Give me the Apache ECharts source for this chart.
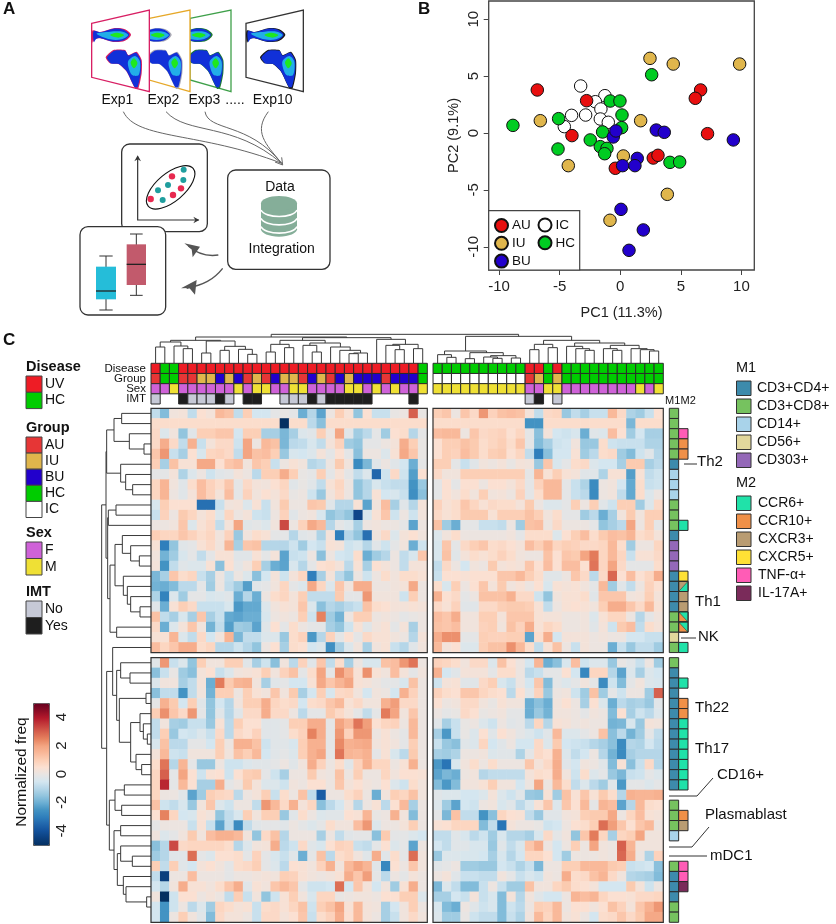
<!DOCTYPE html>
<html><head><meta charset="utf-8">
<style>html,body{margin:0;padding:0;background:#fff}#c{width:836px;height:924px}</style>
<script src="https://cdn.jsdelivr.net/npm/echarts@6/dist/echarts.min.js"></script>
</head><body><div id="c"></div>
<script>
// ---------- PCA points (PC1, PC2)
const pcaAU=[[-6.85,3.78],[-2.78,2.84],[-3.99,-0.23],[6.63,3.78],[6.19,3.05],[7.2,-0.06],[2.72,-2.2],[3.11,-1.96],[-0.41,-3.1]];
const pcaIU=[[2.45,6.56],[4.37,6.06],[9.85,6.06],[-6.6,1.08],[1.68,1.08],[0.25,-2.02],[-4.29,-2.87],[3.88,-5.39],[-0.85,-7.67]];
const pcaBU=[[2.97,0.26],[3.63,0.06],[9.33,-0.61],[-0.58,-0.35],[-0.36,0.18],[1.4,-2.23],[0.19,-2.87],[1.21,-2.87],[0.06,-6.71],[1.9,-8.52],[0.72,-10.31]];
const pcaIC=[[-3.27,4.13],[-1.27,3.28],[-2.06,2.75],[-1.6,2.11],[-2.86,1.58],[-4.02,1.55],[-4.62,0.56],[-1.65,1.23],[-0.99,0.94]];
const pcaHC=[[-8.86,0.67],[2.59,5.12],[-0.83,2.81],[-0.03,2.81],[0.14,1.58],[0.11,0.47],[-5.09,1.26],[-1.46,0.09],[-2.48,-0.61],[-5.14,-1.41],[-1.65,-1.2],[-1.1,-1.35],[-1.29,-1.82],[4.1,-2.58],[4.9,-2.55]];
const pcaTicks=[-10,-5,0,5,10];
const barTicks=[-4,-2,0,2,4];
// ---------- heatmap values
const heatTopLeft=[
[-.8,-1.7,.2,.3,-.8,.5,.3,1.5,1.3,-.8,1,-.5,-.5,-.1,0,-.1,-2,-1,-2.2,.1,1,.4,-1.5,.5,-.7,-.7,0,.1,3,0],
[.6,.6,.6,.6,.6,.6,.6,.6,.6,.6,.6,.6,.6,.6,-5,.6,.6,-.9,-1.6,.6,.6,.6,.6,.6,.6,.6,.6,.6,.6,.6],
[.7,-.3,.2,-1.5,-.2,1,1,1.2,1.2,-.5,1,1,-1.2,-1.2,-1.8,-1.2,-.3,-.2,1,.1,2,-.2,-1.3,-.9,-.1,-1.3,.5,.6,-1,-.1],
[.7,1.8,.7,-.8,1.7,-.7,.3,.7,.7,-.6,2,.1,1.5,1.3,-1.8,-.9,-.8,-.4,-.8,.3,.9,-1.3,-1.5,-.1,-.1,.1,.3,1.8,1,0],
[1.2,2.2,-.7,-1.2,.5,-.4,.8,.9,.7,-.8,2,1.3,1.4,1,-1.4,-.4,-.5,-.3,.3,-.1,.5,-.1,-1.6,.1,.1,-.3,.4,1.9,1.2,0],
[1,-1.2,1.3,.4,.4,1.9,1.9,.5,1.2,1.4,.2,1.2,1,-.7,.1,.4,.2,-1,-.8,.1,1.1,.2,-2.7,-1.8,-.2,.1,-.2,-.5,-2,-.1],
[-.1,-.1,.3,-1.1,-.3,.1,-.6,-.2,-.1,.3,.1,-.9,1,1,1.8,1,0,-.1,1,-.1,.4,-.1,-.8,-.3,-3.5,-.6,.7,-.6,-2.3,.5],
[.8,1.6,.2,-.2,.6,1.4,.9,.6,1.2,-.1,.7,.3,.2,.5,.8,-.2,0,-.2,-.8,.4,.8,.1,-1.5,-1,-.4,-.7,-.8,-.8,-2.5,-1.4],
[.8,1.6,.1,-.2,.3,1.4,.9,.3,1.4,-.1,.9,.2,.5,.3,.7,0,.1,-.6,-1.4,.2,.7,.1,-1.5,-1,.4,-.5,-.4,-.7,-2.6,-1.6],
[-.4,1,.5,.5,.5,-3.3,-3.3,-.7,.2,.3,-.3,.4,-.7,.2,1.1,.1,.1,1.2,1.1,-.2,-1,-1,.4,-2.2,.2,1.4,-1.2,-.2,-1,.3],
[-.7,.9,.1,1.1,.8,.3,.6,-.3,.8,.1,.3,-.6,-.7,.1,.9,-.2,.1,.2,-.4,-1.5,-1.2,-1.5,-4.3,-.4,.4,1.2,-.6,.1,-.6,.2],
[.1,.1,.2,1.2,-.3,.4,.7,-.8,.3,2,-.2,-.1,-.3,.2,3.3,.1,.9,1.9,1.5,-1,-.1,-.3,-1.2,.1,.2,.1,.1,-.1,-2.2,.1],
[1,.8,.8,1.2,.9,.6,.8,.2,.9,-1.4,.2,.6,.4,-.1,-.1,-1,-.2,-.1,-1.1,.3,-3,-1,-1.5,-3.3,.2,.7,-.3,.3,.5,.2],
[.4,-3,-1.5,-.2,-.1,.4,.7,.2,1.6,-1.2,1.2,1.3,-1,-1,-1,-.6,-1.3,-.5,-.7,.4,.3,-.6,-.4,-1,-.2,-.6,-.1,.2,-2,-.6],
[.2,-1.9,-1.3,-.4,-.1,-.8,-.1,.4,.4,-.2,-.2,.4,-.1,.3,-2.2,-.7,-.6,.1,-1.6,.1,-.5,-.6,.6,-2,-1.3,-1,.1,-.8,-.4,1.2],
[.3,-2.5,-.8,-.2,-.3,-.3,.4,-1.6,.5,-.1,.2,1,-1.2,-2,-2.2,-.4,-1,-.1,.5,.6,.3,-.9,.4,-1.2,.5,.3,.1,-.8,.3,.3],
[-1.8,-1.2,1.2,.6,.8,-.7,-1.2,.1,-.7,.1,-.3,-1.6,-.5,.3,-.6,.3,.8,-3,-1.2,.3,-.9,-1.5,.1,-.6,.1,.6,.2,.6,.6,.4],
[-1.9,-2,-1.7,-.9,-.9,-.1,-1.3,.1,-.8,-1.3,-2.3,-.2,-.1,.2,.8,-.1,-.3,1.9,.8,-.3,1.2,.2,1.8,1.8,.1,.1,.2,.3,1.9,.1],
[-1.1,-2.9,-.3,-1.3,-.1,-.1,-.4,-.3,-.2,-2,-1,-2,.1,.6,.8,.3,1,-.8,-.8,-.8,1.1,-.1,-.1,2.2,.2,.2,.2,-.6,1,.1],
[-.2,-2,.4,1,.7,-.7,-.7,-.7,-.4,-2.4,-2.1,-2.1,-.3,.2,.4,.3,1.2,-.3,-1.6,-1,-1.2,-.9,-.7,1.3,.6,.5,.3,.3,.4,.3],
[1.3,-.8,-1.2,-.4,-1.2,1.2,-1.2,-.7,-2.1,-2.2,-2,-2,-.4,.1,.2,.1,1,-.6,2.5,-1.3,-1.9,.1,1,1,.1,.2,.1,-.1,0,.1],
[.7,-2,-.3,.3,1.2,.2,-1.9,-.8,-2.3,-1.3,-1.4,-2.2,-.2,.5,-.1,.6,.1,-.1,-.1,-1.2,-1.5,-.6,.4,-.2,.2,.4,-.1,.3,-1.2,.1],
[.4,.4,1.6,-.3,-.8,.7,-.5,.2,1.6,-1.8,-.8,-.8,-.3,-.3,-1.4,.6,.9,-2.4,-1,.9,-.1,.5,-.1,.7,.4,.4,.2,.1,-1,.3],
[1.4,.8,1.2,1.8,1.8,.6,.8,-1,-1,-.6,-1,-1.5,.1,.5,-1.2,.6,.5,-.5,-.3,-2.6,-1.2,-.3,.2,-1.2,.2,.4,-.7,-1,-.2,.2]];
const heatTopRight=[
[1,1.2,.1,1.2,.7,2.2,.9,1.3,1.4,1.3,.3,-.8,.7,.8,-1.4,-.8,-1.2,-.7,-.7,1.5,.7,-1.1,-1.3,-.7,.5],
[.6,.6,.6,.6,.6,.6,.6,.6,.6,.6,-2.5,-2.5,.6,.6,.6,.6,.6,.6,.6,.6,.6,-1.8,.6,.6,.6],
[1.4,1.5,1.5,.1,1.2,.7,.8,.9,.5,.8,-.1,-1.6,.3,-.5,-.6,-.4,-2,-.2,-.3,1.4,.5,-1.3,-.5,-1.2,-1.2],
[.5,1,1,1.3,1.1,.6,.8,1,.6,1.2,-.1,-1.7,-1.2,-.6,-.5,.2,-1.4,-1.4,.6,-.6,-.7,-.7,-.7,-1.1,-1.1],
[.5,1,.9,1.4,1.1,.6,1,1.1,.5,.8,-.8,-3,-1.6,-.5,-.5,.4,-1.3,-.9,.6,.7,-1.3,-1.7,-.6,-.2,-1],
[1,1,-.1,-.7,-.2,.2,.1,.3,0,.3,.2,-1.4,1.2,-.4,-.1,.6,.7,-.3,-.5,-.5,-1.2,1.1,1.1,-1.2,-.9],
[.7,.2,.2,1,1,1,1,1,1,1,-.1,1.6,.4,1,.4,.3,-.2,-.2,-1.1,.4,.4,-2.3,.4,-.8,-.6],
[-.1,.5,-.1,.5,.5,.1,.5,.5,.3,.7,-.1,.9,1.5,1.5,-.1,-.7,-1.1,-2.7,.1,.2,-.5,-2.1,.6,-.7,-.6],
[-.1,.5,.2,.6,.2,1,.2,.3,.1,.9,-.1,.6,1.5,1.5,-.1,-.7,-.9,-2.7,.1,.2,-.8,-2.1,.6,-.3,.1],
[.9,.4,.6,1.2,.8,.4,.7,.6,.6,.3,1.1,.1,-.3,-.3,-.1,1,.1,1,-.2,-.6,1,1,-1.3,-.3,.7],
[.7,.4,.6,1.1,1.1,1.1,.4,1,1,1,1.3,1,.2,.6,-.1,-.1,-1.3,-.9,-2,-1.2,.2,1.1,.2,1,1],
[1.3,-1.3,-2,-.1,-.1,-.7,-.7,-.8,.1,-1.3,1.3,1.4,.1,.7,.1,.1,.1,-.1,-1.5,-1.2,-.9,2,.1,1,-.1],
[-.3,.2,.6,.1,.1,.1,.1,.1,.2,-.1,.6,.6,.6,-.3,.5,1,1.4,.6,1.1,1.4,1.3,1.6,.6,.8,.3],
[-.4,1.2,-.1,.7,1,1.2,.6,.7,.5,.3,1.4,1,1.5,.8,1,.9,.7,.7,.8,1.5,.6,-1.3,.1,.1,.8],
[-.4,1.3,-.2,.3,.6,.4,.6,.9,.6,.2,.1,.1,1.3,.5,1.2,1.1,2,2.6,.8,1.5,.8,-.7,.4,.4,.7],
[-.8,.7,.1,-.5,.2,.1,1.1,.3,.4,.3,1.2,.5,1.4,.5,1.4,1.4,.5,2.7,.8,2,.7,-.1,-.1,-.1,.6],
[-.7,.5,.5,.4,.5,.5,.5,1.2,1.2,1.5,1,.6,-.2,-.2,.1,1.2,.7,-.9,.7,2.9,.5,1.4,.5,.8,1.8],
[.6,-.4,1,.1,.5,1.2,.3,1.1,.2,.4,.1,.5,-.4,.4,.3,.4,.2,-.1,1.5,-1.3,-.2,-.8,.1,.9,.5],
[1.7,.5,.7,-.1,.1,1.3,1.3,1.3,1.7,.7,.7,-.6,-1.5,.2,.4,.4,.6,-.2,1.2,1.2,1.2,.2,.3,1,.3],
[.7,.4,.9,-.2,-.2,.7,.7,1,1.1,1.1,1,.4,-.8,.1,.4,.5,.4,.2,1,1.8,1.8,1.2,.7,1.5,.4],
[1.4,1.2,1.8,.2,.2,1,1,.3,1.2,1.2,1.2,.4,.3,.3,.1,.1,.2,-.3,.4,.8,.8,.1,-1,-.1,.2],
[1.3,1.2,1.4,.2,.2,.9,1,.2,1.3,.9,1.8,.4,.8,.6,.1,.1,.2,-.2,.3,-.6,1.1,1.4,-.8,.6,.3],
[1.8,2.3,2.3,-.1,-.1,1,.9,.9,1,1,-2.2,.6,1.8,-.5,.3,.3,.3,.1,.2,.1,.1,-.5,-.5,-.7,-.7],
[1.5,.3,.5,-.3,-.3,1,1.3,1.3,2.3,1.5,.6,-.8,.4,1.3,.1,-.7,.3,.1,.1,-2,-.7,-1.4,-.8,-.8,-1.3]];
const heatBottomLeft=[
[-.2,2.2,-.7,-.3,-1.5,1,.2,.2,1,1,-.2,-1.2,-.6,-1.6,.2,-.9,.9,-.2,1.2,-.8,.6,-1.2,.1,-.4,-.4,1.3,1.4,2.2,2.7,.1],
[-1.6,-.7,0,-1.3,-1.6,.3,.5,-.7,-.3,.2,.3,.4,1,.2,.9,1.3,-.1,.6,2,-.1,2.3,1.6,.4,2.3,.4,.2,1.4,.3,-.1,.2],
[-.3,.2,.2,-1.2,-.8,.3,-2,2.6,1.1,1.6,1.7,.2,-1.2,-.2,-.1,-.5,-.5,.4,1.9,1.2,1.6,2,.4,.3,.1,-.1,-.1,-.4,1.3,.1],
[-1.6,-.8,-.8,-2.5,-.8,.2,-1.9,1,1,.1,1,.4,.2,1.2,.2,1.1,-1.2,-.5,1,-.4,.7,.8,.2,-.5,.2,.1,-.5,1.7,.9,.1],
[-.1,1.7,1.1,-.5,1,-.2,-1.5,-.5,-1,.2,1,1,1.8,.8,.6,.7,-.5,.6,.7,1.2,1.5,.4,.7,.2,.2,1.7,2.1,.7,.7,.1],
[1,2.3,1.2,.7,2.2,-.1,-1.5,-.2,-1,-.2,.7,.7,1.8,.7,.7,.1,-.9,-.1,-.1,1.1,.7,.3,-.1,-.8,-.1,2.6,2,.2,1.2,.1],
[-.8,.2,-1.2,-1.3,-.7,-.7,-1.4,.4,-.9,1,.5,.5,-.2,-.2,-.1,1,1,1.8,1.8,-.1,2,1.5,2.7,2.1,.5,.8,.9,.1,1.5,.1],
[-.8,1,-1.4,-.5,-.6,-.3,-.7,.7,-.9,.7,.5,.9,-.2,-.2,-.1,.6,.9,2.5,1.8,-.1,2.2,.9,2.2,2.2,.1,.4,.1,-.1,1.5,.1],
[-.4,1.3,-.9,-.9,-.1,-.1,-.5,1,.1,1.7,1.7,1.3,-.6,-.2,-.2,-.4,1,1.7,1.7,-.1,2.4,1.7,1.8,1.9,.2,.4,.2,-.1,1,.1],
[.3,1.5,-.6,-.7,.2,.2,.2,1,.2,1.3,1,1.5,-.5,-.2,-.1,-.3,1,1.7,2,-.1,2.7,1.6,1.5,1.7,-.1,.4,-.4,-.9,1.1,.1],
[.6,2.7,-1,1.6,-.1,-1.4,-1.4,.1,-.6,-.6,-.3,-.2,-.2,-.1,.1,-.2,.2,1.8,.9,.1,.6,-.2,.9,1.7,.8,.8,.1,.4,1.7,.1],
[.8,3,-.1,2,.5,-.6,.4,.5,-.6,.5,1,1.1,-.1,-.6,-1.2,.1,.1,1.1,.2,.1,1.3,.1,1,.1,.1,.8,.2,.5,.5,.4],
[.8,3.8,-.1,1.5,.5,-1.2,-1.2,1.8,-.1,.1,1.1,.3,-.3,-.3,-.6,.2,.1,.5,.5,.1,1.2,.3,.5,.2,.1,.5,-.3,-.6,.6,.2],
[.8,.1,.1,-.2,-2.2,-1.3,1,.8,.7,-.9,.1,.3,1,-.7,.6,.1,1.3,-.8,-3.7,.1,.1,.6,.9,.1,-2,.2,1,.8,1.3,.2],
[1.3,-.6,-.8,-.4,-1.4,.2,1.2,-.3,-.6,.1,.1,-.8,2.2,1.5,.7,1.7,.3,.8,-1.6,-.9,-.5,.2,-1,.1,.4,-.9,.5,1.5,-1.2,.1],
[.5,2.5,.8,-.5,-.4,.4,.2,-1.5,-.8,-.4,1,.2,1,1,-1.4,-.2,.6,.1,-.3,-.2,-.2,.5,.4,1.6,0,.1,1.7,.2,-1.7,.1],
[-.1,.1,.1,.1,-.7,.4,-.7,-2.2,-.8,-2.7,-.8,-.2,-.1,-.1,-.2,.1,-.1,-.3,-.1,.6,.2,.2,1.4,2.2,-.3,.1,.1,.3,1,.1],
[.2,-.3,-.1,.2,1.1,.2,1.4,1.7,1.7,1.5,.2,-1.5,.7,1.3,-1,.1,.1,.1,-1.2,.1,-.8,-.2,-.1,-.1,-1.6,1.1,-.1,-.1,-.3,-.5],
[-1.6,-1,3.3,.7,.8,.8,.8,.8,.6,-1,-.3,.2,.3,1.8,-.9,-.6,.7,-.2,-.4,.5,.9,.8,-.7,-.8,-.1,.5,-.3,-.1,-2.2,.1],
[-1.3,-1,-.2,-.2,2.8,-.1,-.3,.5,.5,.6,-.1,.9,-.1,-.4,-.7,-.2,-2,-.1,1.3,-.9,.6,.8,.2,-.2,1.8,-.2,.6,-.1,2.8,.2],
[1,-.8,1,-.2,-.5,.3,.5,.2,-.1,.6,.7,1,-.1,-.3,-.9,.5,.4,.2,.9,1.7,.2,1.5,2,1.6,-.2,-2.8,.5,.1,1.2,.2],
[-.8,-4.5,.1,.1,1.4,.1,.1,.1,-.1,.1,.1,.2,.3,.2,1,.9,.4,.2,.1,.2,.4,1.8,1.2,2.1,-.1,-.9,.1,-.1,.3,.1],
[-.5,-1,.2,1.8,.4,.4,.2,.6,1.2,1.8,-.2,.4,.2,1.2,1.5,1.2,-.1,-.6,-.6,-.5,2.8,-.5,1.2,.3,-.5,.2,-1.3,.4,1.8,.1],
[.2,-5,-.6,.5,.5,.1,.3,.1,-.8,1,-.7,.2,-1.5,-.6,.4,1,.2,-.4,.8,.8,0,.1,.2,.2,.1,.5,.5,1,1,-.3],
[-.5,-2.5,-.6,.1,-.9,-.3,-1.3,.8,.6,.3,.4,-.7,.6,.7,.4,.8,1.3,-.6,1,1.3,2,.4,1.5,.3,.2,-1.2,-.5,.2,1,.1],
[-.5,-2.5,.1,1,.2,-.2,-1.7,.7,.3,.3,.1,-.7,.7,.7,.3,.5,1.2,-.7,.6,.9,1.8,.5,1.5,.3,.1,-1.2,-.7,.2,.7,.2]];
const heatBottomRight=[
[.9,.8,.6,.2,.7,.7,-.3,1.3,.5,.1,-.5,1.6,-2,-1.6,-.4,1.4,-.6,-.3,-.3,-1.4,0,-.2,-.7,.1,-1.3],
[1.7,-.5,-.2,.3,.3,.3,-.1,.6,.6,.1,-.9,-.7,-.1,-.1,.5,-.5,-2.8,.8,.8,-1,-2.2,-.3,-1.2,-.3,-.5],
[-.6,.3,.4,-.2,-.2,.7,1,-.4,-.7,.1,-.5,1.2,-1.7,-.1,-.3,-.1,.2,-.1,-2.7,-.6,-1.7,-.1,.2,-.3,-.4],
[.9,.6,.5,1.2,1.2,.8,.6,.5,-.9,.5,-.2,.9,-1.4,.1,.2,-.6,-1.3,1.3,-1.3,-.1,-.6,.1,.1,-1.3,3],
[.5,.1,.2,.7,.7,.2,0,.4,.2,.2,-2,-1.6,-2,.2,.5,.1,-1.2,.5,-.3,-2,-.9,-1.2,-1.1,-1.4,-.2],
[.1,-.1,0,.7,.5,0,.1,.2,-.1,-.1,-2,-1.4,-1.9,.2,.2,.1,-.1,.2,.1,-1.7,.5,-1.2,-.6,-.9,-.3],
[-.2,-1.2,-.7,0,.1,-.3,-.6,.1,-.2,-.1,-.9,.8,-1,.4,.3,.1,.2,.1,.1,-1.9,-1.8,-.4,-1.4,.3,.2],
[-1.2,-2.4,-.7,0,-.3,.5,-.2,.5,.2,-.1,-.3,-.6,-.2,1.5,-.3,-.3,-.1,.1,1.3,-1.6,-.9,-1.9,-1.3,-.1,-.8],
[-.7,-1.4,-1.6,-.2,-.3,.8,-.5,-.2,.1,-.5,-.5,.7,-.3,1.1,-.5,-.6,-.7,-1,-1.2,-1.6,-2.7,-1,-1.1,-.5,-.9],
[-1.2,-1.3,-1.1,.1,.1,.2,-.3,-.2,-.2,-1.1,-.1,.7,.5,1.7,-.3,-.8,-.5,.1,-1,-1.9,-2.7,-1.2,-1,-1,-1],
[-2.4,-3.2,-.4,.2,.6,.1,.6,.1,.1,.1,1.2,.3,.7,1.8,-.2,-.5,.2,.1,-.2,-1.7,.4,-1.6,-.7,.7,-1],
[-2.2,-1.8,-2,.1,.2,-1,-.8,-.8,-.8,-.8,.3,.6,.5,1.8,.2,-.6,.6,-.3,-.1,-1.4,-1.8,-.7,-.6,-.1,-.3],
[-1.7,-2.4,-1.7,.2,.2,.4,1,.2,.2,-.5,.1,2,.1,1.5,.6,-.8,-.3,-.9,-1.3,-.2,-2.4,-.1,-.1,-.3,-.1],
[-.2,-.3,-.3,-.5,-.5,-.3,.3,-.3,-.6,-.2,-1.4,-1.5,.4,-1.3,1.3,.4,1.2,.4,1.1,.6,-1,1.7,1.6,1.6,1.7],
[-.3,-1.3,-2.2,-.5,-.6,.1,.2,-.4,-.2,-.9,-.4,.4,1.2,-.3,1.2,.5,1.5,-.1,1.6,1.4,-2.2,-1,1.5,.6,.5],
[-.1,-1.8,1.3,-.8,-.8,-2.5,-1.6,.8,.5,.4,-.8,-1.4,-.2,-.2,.2,.3,1,1.1,1.1,1.9,.1,.8,1.4,.4,.3],
[.4,.5,.8,.8,.8,-1.7,-.8,-3.2,.3,.1,.1,0,-.6,-.5,.1,.5,.6,1,2.8,2.1,1.2,.5,1.2,1.5,.1],
[-.8,-.8,-.2,-.4,-.9,-.6,-1.3,-.4,-1,-1,-1.2,-.4,.7,-.1,.2,-1.5,1.2,2.6,.8,-1.2,.8,1,2,.2,.2],
[-.5,-.8,-.2,-.2,-.4,-.4,-1.4,-.2,-.8,-.4,1.2,1.8,.1,-.5,.1,1,.1,2,.2,.1,3,1.6,.2,.2,.2],
[-1.4,-.3,-.3,-.4,-.4,-.5,-1.2,-.4,-1,-.5,.8,.8,.5,-.5,-1.3,.1,.1,.1,.2,.1,2.9,1.8,.1,-1.1,.9],
[-.2,-.1,.1,-1.3,-1.3,-1.4,-1.4,-.5,-.7,-1.1,-.7,-1.8,.1,.1,1,1,1.5,1.5,1.5,1.1,1,-.7,-.6,-.5,-1.6],
[.1,.3,-.2,-.7,-.7,-.8,-.8,.2,-.1,-.7,-.4,-.6,.2,.1,1.8,.6,.7,1.3,1.6,.7,.2,-1,-1.1,-1.2,-1.7],
[-1.8,-.3,-.8,-1.7,-1.7,-.7,.1,-.7,-1.3,-1.3,1.3,.2,.2,.8,1.1,.6,.5,.3,-.5,-.5,-.5,1.1,.3,-.6,.1],
[-1.2,-1.2,-.5,-.7,.3,-.7,-.4,-1.7,.3,-1,.2,-.2,-.5,-.5,.1,1.6,1.4,1.6,.8,.5,.5,.4,.7,.7,.8],
[-.4,-1.7,-2,.1,-.2,-.6,-.4,-1.7,-.6,-.9,.1,1,.9,1.5,.1,.5,.5,.2,.5,1.3,.9,.3,1.2,1.7,2.2],
[-.3,-1.3,-1.3,0,-.6,-.8,-.8,-1.7,-.7,-1.1,.2,1.5,.8,1.5,.2,.4,.1,-.5,.6,.7,1.2,.7,1.1,1.9,1.9]];
// ---------- sample annotations (left block 30 samples, right block 25 samples)
const diseaseLeft='UV HC HC UV UV UV UV UV UV UV UV UV UV UV UV UV UV UV UV UV UV UV UV UV UV UV UV UV UV HC'.split(' ');
const diseaseRight='HC HC HC HC HC HC HC HC HC HC UV UV HC UV HC HC HC HC HC HC HC HC HC HC HC'.split(' ');
const groupLeft='AU HC HC AU AU IU IU BU IU BU AU IU AU BU IU IU AU BU IU AU BU IU BU BU BU AU BU BU BU HC'.split(' ');
const groupRight='IC IC IC IC IC IC IC IC IC IC AU IU HC IU HC HC HC HC HC HC HC HC HC HC HC'.split(' ');
const sexLeft='F F M F F F F F F M F M M F F M M F F F F M M F M F M F F M'.split(' ');
const sexRight='M M M M M M M M M M F F M M F F F F F F F F M F M'.split(' ');
const imtLeft='No - - Yes No No No Yes No - Yes Yes - - No No No Yes No Yes Yes Yes Yes Yes - - - - Yes -'.split(' ');
const imtRight='- - - - - - - - - - No Yes - No - - - - - - - - - - -'.split(' ');
// ---------- marker annotations per row
const m1Top='CD8 CD8 CD8 CD8 CD8 CD4 CD14 CD14 CD14 CD8 CD8 CD8 CD4 CD303 CD303 CD303 CD4 CD4 CD4 CD4 CD8 CD8 CD56 CD8'.split(' ');
const m2Top='- - TNF CCR10 CCR10 - - - - - - CCR6 - - - - CXCR5 CXCR3/CCR6 CXCR3 CXCR3 CCR10\\CCR6 CCR10\\CCR6 - CCR6'.split(' ');
const m1Bottom='CD8 CD4 CD4 CD4 CD4 CD4 CD4 CD4 CD4 CD4 CD4 CD4 CD4 - CD8 CD8 CD8 CD14 - - CD8 CD4 CD4 CD4 CD8 CD8'.split(' ');
const m2Bottom='- - CCR6 - CCR10 CCR10 CCR6 CCR6 CCR6 CCR6 CCR6 CCR6 CCR6 - - CCR10 CXCR3 - - - TNF TNF IL17 - - -'.split(' ');
// ---------- dendrograms: [height, left, right], 0 = next leaf
const treeColumns=[86,[78,[68,[63,[48,0,0],[51,0,[43,0,0]]],[66,[30,0,0],[50,[38,0,0],[41,0,[26,0,0]]]]],[76,[68,[56,[33,0,0],[46,0,0]],[60,[53,0,[33,0,0]],[48,0,[38,0,[30,[28,0,0],0]]]]],[71,0,[56,[53,0,[40,0,0]],[43,0,0]]]]],[80,[36,[25,0,[17,0,0]],[31,[13,0,0],[22,[18,0,[14,0,0]],[15,0,0]]]],[68,[56,[40,0,0],[46,0,0]],[60,[50,0,[43,0,[38,0,0]]],[53,[43,0,[38,0,0]],[43,0,[40,0,[36,0,0]]]]]]]];
const treeRows=[148,[135,[133,[111,[88,0,0],[65,0,[21,0,0]]],[91,0,[76,0,[55,0,0]]]],[130,[128,[105,0,0],0],[123,[108,[86,0,[61,0,[35,0,0]]],[83,0,[71,0,[61,0,[33,0,0]]]]],[103,0,0]]]],[133,[115,0,[103,[91,0,[63,0,0]],[95,[15,0,0],[61,[33,0,[23,0,[11,0,0]]],[45,0,[28,0,0]]]]]],[125,[108,[80,0,0],[88,0,0]],[111,[91,0,0],[101,[91,0,[56,0,0]],[83,0,[75,0,[13,0,0]]]]]]]];
// ---------- labels & colours
const heatColors=['#053061','#0B3F7D','#12509A','#2166AC','#2F7FBC','#4393C3','#6BAED3','#92C5DE','#B5D6E8','#D4E6F0','#E8E5E3','#FBE0D2','#FCCFB6','#F9B99A','#F4A582','#E6825F','#D6604D','#C43C3C','#B2182B','#8A0C25','#67001F'];
const colDisease={UV:'#EE1C25',HC:'#00CC00'};
const colGroup={AU:'#E63636',IU:'#E0B64C',BU:'#2200CC',HC:'#00CC00',IC:'#FFFFFF'};
const colSex={F:'#CF62D8',M:'#EFE035'};
const colImt={No:'#C6C9D6',Yes:'#1E1E1E'};
const colM1={CD4:'#3D8BAC',CD8:'#76C25F',CD14:'#A9D3EA',CD56:'#E1D79C',CD303:'#9468B8'};
const colM2={CCR6:'#20E2A9',CCR10:'#F09048',CXCR3:'#B99C72',CXCR5:'#FFE135',TNF:'#FF5CB6',IL17:'#7A2B5A'};
const m1Names={CD4:'CD3+CD4+',CD8:'CD3+CD8+',CD14:'CD14+',CD56:'CD56+',CD303:'CD303+'};
const m2Names={CCR6:'CCR6+',CCR10:'CCR10+',CXCR3:'CXCR3+',CXCR5:'CXCR5+',TNF:'TNF-α+',IL17:'IL-17A+'};
const annotationRows=['Disease','Group','Sex','IMT'];

// ---------- helpers
const FONT='"Liberation Sans", Arial, sans-serif';
const palette=[];const pal=c=>{let i=palette.indexOf(c);if(i<0){palette.push(c);i=palette.length-1;}return i;};
const GAPCOL=0.62, GAPROW=0.5;
const colPos=(b,i)=>b===0?i+.5:30+GAPCOL+i+.5;
const rowPos=(b,i)=>b===0?i+.5:24+GAPROW+i+.5;
function walk(node,pos,out,st){
  if(node===0){return {p:pos(st.n++),h:0};}
  const a=walk(node[1],pos,out,st),b=walk(node[2],pos,out,st);
  out.push([a.p,a.h,b.p,b.h,node[0]]);
  return {p:(a.p+b.p)/2,h:node[0]};
}
const segColumns=[];walk(treeColumns,i=>i<30?colPos(0,i):colPos(1,i-30),segColumns,{n:0});
const segRows=[];walk(treeRows,i=>i<24?rowPos(0,i):rowPos(1,i-24),segRows,{n:0});
const heat=m=>{const o=[];m.forEach((r,y)=>r.forEach((v,x)=>o.push([x,y,v])));return o;};
const cats=n=>Array.from({length:n},(_,i)=>i);

// annotation cell data
const sampleCells=[];
[[diseaseLeft,diseaseRight,colDisease],[groupLeft,groupRight,colGroup],[sexLeft,sexRight,colSex],[imtLeft,imtRight,colImt]].forEach((t,r)=>{
  [t[0],t[1]].forEach((arr,b)=>arr.forEach((k,i)=>{if(t[2][k])sampleCells.push([colPos(b,i),r,pal(t[2][k]),-1,0]);}));
});
const sideCells=[];
[[m1Top,m2Top],[m1Bottom,m2Bottom]].forEach((t,b)=>{
  t[0].forEach((k,i)=>{if(colM1[k])sideCells.push([.5,rowPos(b,i),pal(colM1[k]),-1,0]);});
  t[1].forEach((k,i)=>{
    if(k==='-')return;
    let m=k.split('/');
    if(m.length>1){sideCells.push([1.5,rowPos(b,i),pal(colM2[m[0]]),pal(colM2[m[1]]),1]);return;}
    m=k.split('\\');
    if(m.length>1){sideCells.push([1.5,rowPos(b,i),pal(colM2[m[0]]),pal(colM2[m[1]]),2]);return;}
    sideCells.push([1.5,rowPos(b,i),pal(colM2[k]),-1,0]);
  });
});
function renderCell(params,api){
  const c=api.coord([api.value(0),api.value(1)]),s=api.size([1,1]);
  const x=c[0]-s[0]/2,y=c[1]-s[1]/2,w=s[0],h=s[1];
  const a=palette[api.value(2)],bi=api.value(3),t=api.value(4);
  const kids=[{type:'rect',shape:{x,y,width:w,height:h},style:{fill:a,stroke:'#2b2b2b',lineWidth:1}}];
  if(bi>=0){
    const pts=t===1?[[x+w,y],[x+w,y+h],[x,y+h]]:[[x,y],[x+w,y],[x+w,y+h]];
    kids.push({type:'polygon',shape:{points:pts},style:{fill:palette[bi],stroke:'#2b2b2b',lineWidth:.5}});
    kids.push({type:'rect',shape:{x,y,width:w,height:h},style:{fill:'none',stroke:'#2b2b2b',lineWidth:1}});
  }
  return {type:'group',children:kids};
}
const renderTreeTop=(p,api)=>{
  const q=[[api.value(0),api.value(1)],[api.value(0),api.value(4)],[api.value(2),api.value(4)],[api.value(2),api.value(3)]].map(v=>api.coord(v));
  return {type:'polyline',shape:{points:q},style:{fill:'none',stroke:'#3a3a3a',lineWidth:1}};
};
const renderTreeLeft=(p,api)=>{
  const q=[[api.value(1),api.value(0)],[api.value(4),api.value(0)],[api.value(4),api.value(2)],[api.value(3),api.value(2)]].map(v=>api.coord(v));
  return {type:'polyline',shape:{points:q},style:{fill:'none',stroke:'#3a3a3a',lineWidth:1}};
};

// ---------- graphic helpers
const G=[];
const Z=v=>v/3;
const poly=(pts,fill,stroke,lw,smooth)=>G.push({type:'polygon',shape:{points:pts.map(p=>[Z(p[0]),Z(p[1])]),smooth:smooth||0},style:{fill:fill,stroke:stroke||null,lineWidth:lw||0}});
const pline=(pts,stroke,lw,z)=>G.push({type:'polyline',z:z||0,shape:{points:pts},style:{fill:'none',stroke:stroke,lineWidth:lw}});
const txt=(x,y,t,o)=>{o=o||{};G.push({type:'text',x:x,y:y,z:o.z||6,rotation:o.rot||0,style:{text:t,font:(o.weight||'normal')+' '+(o.size||14)+'px '+FONT,fill:o.fill||'#111',align:o.align||'left',verticalAlign:'middle'}});};
const round=(x0,y0,x1,y1)=>G.push({type:'rect',shape:{x:Z(x0),y:Z(y0),width:Z(x1-x0),height:Z(y1-y0),r:8},style:{fill:'#fff',stroke:'#333',lineWidth:1.3}});
const curve=(a,b,c,d,col,lw)=>G.push({type:'bezierCurve',shape:{x1:Z(a[0]),y1:Z(a[1]),cpx1:Z(b[0]),cpy1:Z(b[1]),cpx2:Z(c[0]),cpy2:Z(c[1]),x2:Z(d[0]),y2:Z(d[1])},style:{fill:'none',stroke:col,lineWidth:lw}});
const shrink=(pts,k)=>{const cx=pts.reduce((s,p)=>s+p[0],0)/pts.length,cy=pts.reduce((s,p)=>s+p[1],0)/pts.length;return pts.map(p=>[cx+(p[0]-cx)*k,cy+(p[1]-cy)*k]);};
const blobTop=[[277,92],[300,96],[345,84],[375,88],[393,104],[375,122],[340,126],[300,115],[285,118],[278,128]];
const blobTopCy=[[290,101],[330,95],[368,95],[385,105],[365,118],[330,118]];
const blobTopGr=[[330,105],[350,98],[372,105],[355,113]];
const blobLow=[[317,172],[340,150],[375,150],[385,165],[410,155],[425,180],[425,220],[415,265],[405,265],[380,215],[355,192],[330,190]];
const blobLowCy=[[385,182],[405,168],[420,185],[416,225],[396,225],[385,200]];
const blobLowGr=[[392,188],[402,175],[412,190],[402,205]];
function flowFrame(pts,dx,frame,edge){
  poly(pts,'#fff',frame,1.3);
  const m=a=>a.map(p=>[p[0]+dx,p[1]]);
  poly(m(blobTop),edge,null,0,.3);poly(m(shrink(blobTop,.92)),'#1130D8',null,0,.3);
  poly(m(blobTopCy),'#22AEE8',null,0,.3);poly(m(blobTopGr),'#1FE81F',null,0,.3);
  poly(m(blobLow),edge,null,0,.2);poly(m(shrink(blobLow,.94)),'#1130D8',null,0,.2);
  poly(m(blobLowCy),'#22AEE8',null,0,.3);poly(m(blobLowGr),'#1FE81F',null,0,.3);
}
// panel A
flowFrame([[570,55],[693,30],[693,275],[570,240]],245,'#3FA04A','#1C7A34');
flowFrame([[448,55],[570,30],[570,275],[448,240]],122,'#E6A829','#A9A9B4');
flowFrame([[275,70],[448,30],[448,275],[275,232]],0,'#D81E63','#D81E63');
flowFrame([[738,70],[910,30],[910,275],[738,232]],463,'#333','#1a1a1a');
[['Exp1',352],['Exp2',490],['Exp3',613],['.....',705],['Exp10',818]].forEach(e=>txt(Z(e[1]),Z(301),e[0],{align:'center',size:14}));
curve([370,335],[410,420],[600,395],[845,490],'#666',1);
curve([498,335],[560,405],[700,365],[845,490],'#666',1);
curve([615,335],[625,395],[745,365],[845,490],'#666',1);
curve([805,335],[760,395],[795,430],[845,490],'#666',1);
pline([[Z(825),Z(486)],[Z(848),Z(495)],[Z(845),Z(472)]],'#666',1);
round(365,432,622,695);
pline([[Z(413),Z(470)],[Z(413),Z(660)],[Z(596),Z(660)]],'#333',1.2);
poly([[403,484],[413,466],[423,484],[413,478]],'#333');poly([[580,650],[598,660],[580,670],[586,660]],'#333');
G.push({type:'ellipse',originX:Z(512),originY:Z(562),rotation:40*Math.PI/180,shape:{cx:Z(512),cy:Z(562),rx:Z(88),ry:Z(42)},style:{fill:'#fff',stroke:'#111',lineWidth:1.1}});
[[551,509],[550,540],[504,555],[474,571],[488,600]].forEach(p=>G.push({type:'circle',shape:{cx:Z(p[0]),cy:Z(p[1]),r:3},style:{fill:'#1F9E9E'}}));
[[516,529],[543,565],[519,585],[452,597]].forEach(p=>G.push({type:'circle',shape:{cx:Z(p[0]),cy:Z(p[1]),r:3.2},style:{fill:'#E8294F'}}));
round(240,680,497,945);
const rect=(x0,y0,x1,y1,f)=>G.push({type:'rect',shape:{x:Z(x0),y:Z(y0),width:Z(x1-x0),height:Z(y1-y0)},style:{fill:f}});
pline([[Z(298),Z(768)],[Z(338),Z(768)]],'#333',1);pline([[Z(318),Z(768)],[Z(318),Z(930)]],'#333',1);pline([[Z(298),Z(930)],[Z(338),Z(930)]],'#333',1);
pline([[Z(390),Z(702)],[Z(428),Z(702)]],'#333',1);pline([[Z(409),Z(702)],[Z(409),Z(886)]],'#333',1);pline([[Z(390),Z(886)],[Z(428),Z(886)]],'#333',1);
rect(288,800,348,898,'#25BDD9');rect(380,733,438,855,'#C25A6C');
pline([[Z(288),Z(873)],[Z(348),Z(873)]],'#222',1.3);pline([[Z(380),Z(793)],[Z(438),Z(793)]],'#222',1.3);
round(683,510,990,808);
txt(Z(840),Z(560),'Data',{align:'center',size:14});txt(Z(845),Z(746),'Integration',{align:'center',size:14});
const DB='#85AE99';
G.push({type:'ellipse',shape:{cx:Z(837),cy:Z(688),rx:Z(54),ry:Z(22)},style:{fill:DB}});
rect(783,610,891,688,DB);
[630,655,680].forEach(y=>curve([783,y],[795,y+26],[880,y+26],[891,y],'#fff',1.6));
G.push({type:'ellipse',shape:{cx:Z(837),cy:Z(610),rx:Z(54),ry:Z(22)},style:{fill:DB,stroke:null}});
curve([655,765],[620,770],[590,760],[565,738],'#555',1.4);
poly([[553,730],[600,740],[578,772],[575,748]],'#555');
curve([668,805],[640,840],[610,855],[560,865],'#555',1.4);
poly([[543,865],[590,840],[585,884],[568,864]],'#555');
txt(3,9.5,'A',{weight:'bold',size:17});txt(418,9.5,'B',{weight:'bold',size:17});txt(3,340,'C',{weight:'bold',size:17});
// scatter legend box
G.push({type:'rect',z:3,shape:{x:488.7,y:210.7,width:91,height:59.3},style:{fill:'#fff',stroke:'#444',lineWidth:1.2}});
// left legends
function leftLegend(title,y,labels,cols,step){
  txt(26,y,title,{weight:'bold',size:14.5});
  labels.forEach((k,i)=>{
    G.push({type:'rect',shape:{x:26,y:y+9+i*step,width:16,height:step},style:{fill:cols[k],stroke:'#444',lineWidth:1}});
    txt(45,y+9+i*step+step/2,k,{size:14});
  });
}
leftLegend('Disease',367,['UV','HC'],colDisease,16.3);
leftLegend('Group',428,['AU','IU','BU','HC','IC'],colGroup,16.1);
leftLegend('Sex',533,['F','M'],colSex,16.5);
leftLegend('IMT',592,['No','Yes'],colImt,16.5);
// right legends
function rightLegend(title,y,keys,cols,names,tx){
  txt(736,y,title,{size:14.5});
  keys.forEach((k,i)=>{
    G.push({type:'rect',shape:{x:736.5,y:y+13+i*18,width:14.5,height:14.5},style:{fill:cols[k],stroke:'#333',lineWidth:1}});
    txt(tx,y+13+i*18+7.3,names[k],{size:14});
  });
}
rightLegend('M1',368,Object.keys(colM1),colM1,m1Names,757);
rightLegend('M2',483,Object.keys(colM2),colM2,m2Names,758);
// panel frames on top of the cells
[[151,408.3,276.3,244.3],[433,408.3,230.3,244.3],[151,657.7,276.3,264.6],[433,657.7,230.3,264.6]].forEach(r=>G.push({type:'rect',z:10,shape:{x:r[0],y:r[1],width:r[2],height:r[3]},style:{fill:'none',stroke:'#333',lineWidth:1.2}}));
// row call-outs
txt(665,401,'M1',{size:11});txt(680.5,401,'M2',{size:11});
txt(697,462,'Th2',{size:15});pline([[684,464],[697,464]],'#333',1);
txt(695,602,'Th1',{size:15});
txt(698,637,'NK',{size:15});pline([[681,638],[696,638]],'#333',1);
txt(695,708,'Th22',{size:15});txt(695,749,'Th17',{size:15});
txt(717,775,'CD16+',{size:15});pline([[669,796],[697,796],[713,778]],'#333',1);
txt(705,815,'Plasmablast',{size:15});pline([[669,847],[692,847],[709,827]],'#333',1);
txt(710,856,'mDC1',{size:15});pline([[669,856],[707,856]],'#333',1);
txt(22,772,'Normalized freq',{size:15.5,rot:Math.PI/2,align:'center'});

// ---------- grids & axes
const grids=[
 {left:488.7,top:1,width:265.6,height:269,show:true,backgroundColor:'#fff',borderColor:'#444',borderWidth:1.3},
 {left:151,top:408.3,width:276.3,height:244.3},
 {left:433,top:408.3,width:230.3,height:244.3},
 {left:151,top:657.7,width:276.3,height:264.6},
 {left:433,top:657.7,width:230.3,height:264.6},
 {left:151,top:330,width:512.3,height:33},
 {left:90,top:408.3,width:61,height:514},
 {left:151,top:363.3,width:512.3,height:40.7},
 {left:669.3,top:408.3,width:18.7,height:514},
 {left:33,top:703,width:16,height:142}
];
const hid=(o)=>Object.assign({show:false},o);
const catAxis=(n,g,inv)=>hid({type:'category',gridIndex:g,data:cats(n),inverse:!!inv});
const xAxes=[
 {type:'value',gridIndex:0,min:-10.86,max:11.06,splitLine:{show:false},axisLine:{show:false,onZero:false},
  axisTick:{show:true,length:5,lineStyle:{color:'#444'},customValues:pcaTicks},
  axisLabel:{color:'#222',fontSize:15,margin:9,hideOverlap:false,customValues:pcaTicks},
  name:'PC1 (11.3%)',nameLocation:'middle',nameGap:35,nameTextStyle:{fontSize:14.5,color:'#222'}},
 catAxis(30,1),catAxis(25,2),catAxis(30,3),catAxis(25,4),
 hid({type:'value',gridIndex:5,min:0,max:30+GAPCOL+25}),
 hid({type:'value',gridIndex:6,min:0,max:183,inverse:true}),
 hid({type:'value',gridIndex:7,min:0,max:30+GAPCOL+25}),
 hid({type:'value',gridIndex:8,min:0,max:2}),
 hid({type:'category',gridIndex:9,data:[0]})
];
const yAxes=[
 {type:'value',gridIndex:0,min:-12.04,max:11.6,splitLine:{show:false},axisLine:{show:false,onZero:false},
  axisTick:{show:true,length:5,lineStyle:{color:'#444'},customValues:pcaTicks},
  axisLabel:{color:'#222',fontSize:15,rotate:90,margin:7,hideOverlap:false,customValues:pcaTicks},
  name:'PC2 (9.1%)',nameLocation:'middle',nameGap:27,nameTextStyle:{fontSize:14.5,color:'#222'}},
 catAxis(24,1,true),catAxis(24,2,true),catAxis(26,3,true),catAxis(26,4,true),
 hid({type:'value',gridIndex:5,min:0,max:99}),
 hid({type:'value',gridIndex:6,min:0,max:24+GAPROW+26,inverse:true}),
 {type:'category',gridIndex:7,data:annotationRows,inverse:true,axisLine:{show:false},axisTick:{show:false},splitLine:{show:false},
  axisLabel:{color:'#111',fontSize:11.5,margin:5,interval:0,lineHeight:10}},
 hid({type:'value',gridIndex:8,min:0,max:24+GAPROW+26,inverse:true}),
 {type:'value',gridIndex:9,position:'right',min:-5,max:5,splitLine:{show:false},axisLine:{show:false},axisTick:{show:false},
  axisLabel:{color:'#222',fontSize:15,rotate:90,margin:5,hideOverlap:false,customValues:barTicks}}
];
const pointSeries=(name,data,color)=>({type:'scatter',name,data,xAxisIndex:0,yAxisIndex:0,symbol:'circle',symbolSize:12.5,
  itemStyle:{color,borderColor:'#111',borderWidth:1,opacity:1}});
const heatSeries=(m,i)=>({type:'heatmap',data:heat(m),xAxisIndex:i,yAxisIndex:i,progressive:0,emphasis:{disabled:true}});
const series=[
 heatSeries(heatTopLeft,1),heatSeries(heatTopRight,2),heatSeries(heatBottomLeft,3),heatSeries(heatBottomRight,4),
 pointSeries('IC',pcaIC,'#FFFFFF'),pointSeries('HC',pcaHC,'#00CC22'),pointSeries('IU',pcaIU,'#E0B64C'),pointSeries('AU',pcaAU,'#E80F0F'),pointSeries('BU',pcaBU,'#2200CC'),
 {type:'custom',xAxisIndex:5,yAxisIndex:5,data:segColumns,renderItem:renderTreeTop,clip:false,silent:true,encode:{x:[0,2],y:[1,3]}},
 {type:'custom',xAxisIndex:6,yAxisIndex:6,data:segRows,renderItem:renderTreeLeft,clip:false,silent:true,encode:{x:[1,3],y:[0,2]}},
 {type:'custom',xAxisIndex:7,yAxisIndex:7,data:sampleCells,renderItem:renderCell,clip:false,silent:true,encode:{x:0,y:1}},
 {type:'custom',xAxisIndex:8,yAxisIndex:8,data:sideCells,renderItem:renderCell,clip:false,silent:true,encode:{x:0,y:1}}
];
const chart=echarts.init(document.getElementById('c'),null,{renderer:'canvas'});
chart.setOption({
 animation:false,backgroundColor:'#fff',
 textStyle:{fontFamily:FONT},
 grid:grids,xAxis:xAxes,yAxis:yAxes,series:series,
 legend:[
  {data:['AU','IU','BU'],orient:'vertical',left:494,top:218,itemWidth:13,itemHeight:13,itemGap:2.8,z:5,selectedMode:false,textStyle:{fontSize:13.5,color:'#111',padding:[0,0,0,-1]},padding:0},
  {data:['IC','HC'],orient:'vertical',left:537.5,top:217.5,itemWidth:13,itemHeight:13,itemGap:2.8,z:5,selectedMode:false,textStyle:{fontSize:13.5,color:'#111',padding:[0,0,0,-1]},padding:0}
 ],
 visualMap:{type:'continuous',min:-5,max:5,seriesIndex:[0,1,2,3],inRange:{color:heatColors},left:33,top:703,itemWidth:16,itemHeight:142,text:null,
  calculable:false,realtime:false,padding:0,borderColor:'#555',borderWidth:1,hoverLink:false,showLabel:false,textStyle:{fontSize:0}},
 graphic:{elements:G}
});
</script></body></html>
